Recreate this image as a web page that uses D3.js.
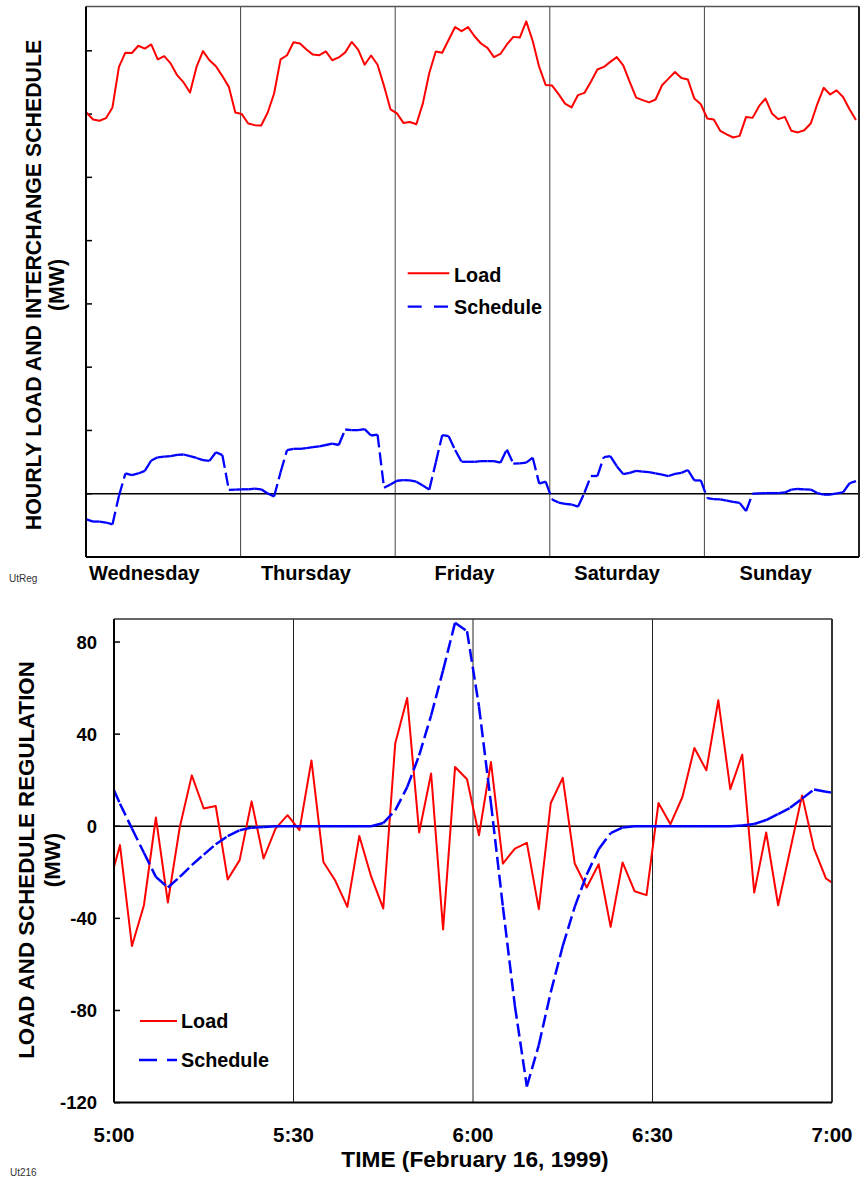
<!DOCTYPE html>
<html>
<head>
<meta charset="utf-8">
<script src="https://cdn.jsdelivr.net/npm/d3@7"></script>
<style>
  body { margin: 0; background: #fff; }
  text { font-family: "Liberation Sans", Arial, Helvetica, sans-serif; font-weight: bold; fill: #000; }
  text.tag { font-weight: normal; fill: #333; }
</style>
</head>
<body>
<svg id="chart" width="867" height="1184"></svg>
<script>
// ---------- Week of hourly load and interchange schedule (MW) ----------
const days = ["Wednesday", "Thursday", "Friday", "Saturday", "Sunday"];

const hourlyLoad = [
  1204, 1183, 1179, 1187, 1221, 1349, 1394, 1393, 1416, 1407, 1420, 1373, 1383, 1360, 1323, 1300, 1268, 1349, 1399, 1370, 1351, 1320, 1286, 1205,
  1200, 1170, 1165, 1164, 1204, 1265, 1373, 1386, 1427, 1423, 1404, 1388, 1386, 1398, 1370, 1379, 1395, 1428, 1404, 1356, 1385, 1356, 1289, 1215,
  1202, 1172, 1175, 1168, 1233, 1330, 1398, 1394, 1435, 1475, 1462, 1475, 1446, 1423, 1409, 1380, 1390, 1420, 1444, 1442, 1493, 1431, 1349, 1292,
  1290, 1263, 1233, 1221, 1260, 1267, 1302, 1341, 1349, 1365, 1380, 1354, 1302, 1252, 1244, 1237, 1246, 1291, 1312, 1333, 1314, 1309, 1249, 1231,
  1186, 1183, 1147, 1136, 1126, 1131, 1191, 1188, 1225, 1249, 1202, 1184, 1191, 1147, 1142, 1149, 1170, 1231, 1283, 1262, 1275, 1254, 1215, 1181
];

const hourlySchedule = [
  -81, -88, -88, -91, -97, -7, 64, 59, 64, 72, 105, 115, 117, 119, 123, 124, 119, 113, 106, 104, 131, 122, 12, 13,
  14, 14, 16, 14, 1, -9, 68, 138, 142, 142, 144, 147, 150, 154, 158, 154, 203, 201, 201, 204, 184, 187, 19, 29,
  41, 43, 42, 38, 26, 13, 98, 185, 182, 138, 101, 101, 101, 103, 103, 103, 98, 140, 95, 96, 98, 114, 32, 38,
  -18, -28, -32, -34, -41, 3, 56, 56, 116, 119, 87, 62, 66, 72, 70, 68, 64, 60, 56, 63, 66, 75, 42, 42,
  -14, -17, -18, -22, -26, -29, -55, 0, 1, 2, 2, 2, 4, 13, 15, 14, 13, 2, -3, -3, 1, 4, 33, 40
];

const weekTicks = [-200, 0, 200, 400, 600, 800, 1000, 1200, 1400];

// ---------- Regulation, February 16 1999, 5:00 to 7:00 (minutes after 5:00) ----------
const minutes = [0, 1, 3, 5, 7, 9, 11, 13, 15, 17, 19, 21, 23, 25, 27, 29, 31, 33, 35, 37, 39,
  41, 43, 45, 47, 49, 51, 53, 55, 57, 59, 61, 63, 65, 67, 69, 71, 73, 75, 77, 79,
  81, 83, 85, 87, 89, 91, 93, 95, 97, 99, 101, 103, 105, 107, 109, 111, 113, 115, 117, 119, 120];

const regLoad = [-17.7, -8.2, -52, -34.3, 3.8, -33.1, -0.3, 22.1, 7.7, 8.8, -23.1,
  -14.7, 10.8, -14, -1, 4.8, -1.7, 28.6, -15.5, -23.7, -35,
  -4.2, -22, -35.7, 35.9, 55.7, -2.7, 22.9, -44.8, 25.7, 20.4,
  -3.9, 27.9, -16.2, -9.7, -7.2, -36, 10.1, 21, -16.2, -26.6,
  -16.5, -43.7, -15.7, -28.2, -29.9, 10.1, 0.9, 12.7, 34, 24.3,
  54.7, 16.1, 31.1, -28.8, -2.7, -34.3, -10.4, 13.4, -9.7, -22.7, -24.5];

const regSchedule = [15.6, 9.8, -1, -11.5, -22, -26.6, -22, -16.9, -12.3, -7.8, -4.3,
  -1.7, -0.6, -0.3, 0, 0, 0, 0, 0, 0, 0,
  0, 0, 1.4, 6.9, 17, 30.8, 48.1, 67.7, 88.4, 84.7,
  52, 10, -35, -78, -113, -95, -72, -52, -35, -21,
  -10, -3, -0.5, 0, 0, 0, 0, 0, 0, 0,
  0, 0, 0.3, 1, 2.7, 5.3, 8, 12, 16, 15, 14.6];

const timeTicks = [0, 30, 60, 90, 120];
const timeTickLabels = ["5:00", "5:30", "6:00", "6:30", "7:00"];
const regTicks = [80, 40, 0, -40, -80, -120];

const RED = "#ff0000", BLUE = "#0000ff";
const svg = d3.select("#chart");

// dashed series: dash pattern restarts on every segment between samples
function dashedSegments(g, pts, x, y, dash, width) {
  g.selectAll(null).data(d3.pairs(pts)).join("line")
    .attr("x1", d => x(d[0][0])).attr("y1", d => y(d[0][1]))
    .attr("x2", d => x(d[1][0])).attr("y2", d => y(d[1][1]))
    .attr("stroke", BLUE).attr("stroke-width", width)
    .attr("stroke-dasharray", dash).attr("fill", "none");
}

// ================= Upper chart =================
{
  const L = 86, R = 859, T = 6.5, B = 557;
  const x = d3.scaleLinear().domain([0, 119]).range([86.6, 856]);
  const dayBand = d3.scaleBand().domain(days).range([L, R]);
  const y = d3.scaleLinear().domain([-200, 1540]).range([B, T]);
  const dayLabelNudge = [-19, -12, -8, -10, -6];
  const g = svg.append("g");

  // day separators
  g.selectAll(null).data(days.slice(1)).join("line")
    .attr("x1", d => dayBand(d)).attr("x2", d => dayBand(d))
    .attr("y1", T).attr("y2", B)
    .attr("stroke", "#444").attr("stroke-width", 1);

  // zero line
  g.append("line").attr("x1", L).attr("x2", R).attr("y1", y(0)).attr("y2", y(0))
    .attr("stroke", "#000").attr("stroke-width", 1.5);

  // inward ticks on the value axis
  g.selectAll(null).data(weekTicks).join("line")
    .attr("x1", L).attr("x2", L + 6).attr("y1", d => y(d)).attr("y2", d => y(d))
    .attr("stroke", "#000").attr("stroke-width", 1.5);

  // load
  g.append("path").datum(hourlyLoad)
    .attr("d", d3.line().x((d, i) => x(i)).y(d => y(d)))
    .attr("fill", "none").attr("stroke", RED).attr("stroke-width", 2)
    .attr("stroke-linejoin", "round");

  // interchange schedule
  dashedSegments(g.append("g"), hourlySchedule.map((v, i) => [i, v]), x, y, "13,5", 2.3);

  // frame
  g.append("line").attr("x1", L).attr("x2", R).attr("y1", T).attr("y2", T).attr("stroke", "#555").attr("stroke-width", 1.5);
  g.append("line").attr("x1", R).attr("x2", R).attr("y1", T).attr("y2", B).attr("stroke", "#222").attr("stroke-width", 2);
  g.append("line").attr("x1", L).attr("x2", R).attr("y1", B).attr("y2", B).attr("stroke", "#000").attr("stroke-width", 2);
  g.append("line").attr("x1", L).attr("x2", L).attr("y1", T).attr("y2", B).attr("stroke", "#000").attr("stroke-width", 2);

  // day labels
  g.selectAll(null).data(days).join("text")
    .attr("x", (d, i) => dayBand(d) + dayBand.bandwidth() / 2 + dayLabelNudge[i])
    .attr("y", 580).attr("text-anchor", "middle").attr("font-size", 20)
    .text(d => d);

  // axis title
  const cy = 285;
  g.append("text").attr("transform", `translate(41,${cy}) rotate(-90)`)
    .attr("text-anchor", "middle").attr("font-size", 21.3)
    .text("HOURLY LOAD AND INTERCHANGE SCHEDULE");
  g.append("text").attr("transform", `translate(64,${cy}) rotate(-90)`)
    .attr("text-anchor", "middle").attr("font-size", 21.3).text("(MW)");

  // legend
  g.append("line").attr("x1", 407.7).attr("x2", 449.3).attr("y1", 273.3).attr("y2", 273.3)
    .attr("stroke", RED).attr("stroke-width", 2);
  g.append("text").attr("x", 454).attr("y", 281.7).attr("font-size", 19.8).text("Load");
  g.append("line").attr("x1", 407.7).attr("x2", 449.3).attr("y1", 306.7).attr("y2", 306.7)
    .attr("stroke", BLUE).attr("stroke-width", 2.3).attr("stroke-dasharray", "14,12.3");
  g.append("text").attr("x", 454).attr("y", 314).attr("font-size", 19.8).text("Schedule");

  g.append("text").attr("class", "tag").attr("x", 9).attr("y", 582).attr("font-size", 10).text("UtReg");
}

// ================= Lower chart =================
{
  const L = 114, R = 832, T = 619, B = 1102.6;
  const x = d3.scaleLinear().domain([0, 120]).range([L, R]);
  const y = d3.scaleLinear().domain([-120, 90]).range([B, T]);
  const g = svg.append("g");

  // half-hour gridlines
  g.selectAll(null).data(timeTicks.slice(1, -1)).join("line")
    .attr("x1", d => x(d)).attr("x2", d => x(d)).attr("y1", T).attr("y2", B)
    .attr("stroke", "#222").attr("stroke-width", 1);

  // zero line
  g.append("line").attr("x1", L).attr("x2", R).attr("y1", y(0)).attr("y2", y(0))
    .attr("stroke", "#000").attr("stroke-width", 1.5);

  // inward ticks + labels
  g.selectAll(null).data(regTicks).join("line")
    .attr("x1", L).attr("x2", L + 6).attr("y1", d => y(d)).attr("y2", d => y(d))
    .attr("stroke", "#000").attr("stroke-width", 1.5);
  g.selectAll(null).data(regTicks).join("text")
    .attr("x", 97).attr("y", d => y(d) + 6.8).attr("text-anchor", "end")
    .attr("font-size", 18.5).text(d => d);

  // time labels
  g.selectAll(null).data(timeTicks).join("text")
    .attr("x", d => x(d)).attr("y", 1142).attr("text-anchor", "middle")
    .attr("font-size", 20.5).text((d, i) => timeTickLabels[i]);

  // load regulation
  g.append("path").datum(minutes.map((m, i) => [m, regLoad[i]]))
    .attr("d", d3.line().x(d => x(d[0])).y(d => y(d[1])))
    .attr("fill", "none").attr("stroke", RED).attr("stroke-width", 2)
    .attr("stroke-linejoin", "round");

  // schedule regulation
  dashedSegments(g.append("g"), minutes.map((m, i) => [m, regSchedule[i]]), x, y, "13,5", 2.5);

  // frame
  g.append("line").attr("x1", L).attr("x2", R).attr("y1", T).attr("y2", T).attr("stroke", "#333").attr("stroke-width", 1.5);
  g.append("line").attr("x1", R).attr("x2", R).attr("y1", T).attr("y2", B).attr("stroke", "#333").attr("stroke-width", 2);
  g.append("line").attr("x1", L).attr("x2", R).attr("y1", B).attr("y2", B).attr("stroke", "#000").attr("stroke-width", 2);
  g.append("line").attr("x1", L).attr("x2", L).attr("y1", T).attr("y2", B).attr("stroke", "#000").attr("stroke-width", 2);

  // axis titles
  const cy = 860;
  g.append("text").attr("transform", `translate(34,${cy}) rotate(-90)`)
    .attr("text-anchor", "middle").attr("font-size", 22.3)
    .text("LOAD AND SCHEDULE REGULATION");
  g.append("text").attr("transform", `translate(60,${cy}) rotate(-90)`)
    .attr("text-anchor", "middle").attr("font-size", 22.3).text("(MW)");
  g.append("text").attr("x", 475).attr("y", 1167).attr("text-anchor", "middle")
    .attr("font-size", 22.7).text("TIME (February 16, 1999)");

  // legend
  g.append("line").attr("x1", 140).attr("x2", 177).attr("y1", 1021).attr("y2", 1021)
    .attr("stroke", RED).attr("stroke-width", 2);
  g.append("text").attr("x", 181).attr("y", 1028).attr("font-size", 19.8).text("Load");
  g.append("line").attr("x1", 139).attr("x2", 177).attr("y1", 1060).attr("y2", 1060)
    .attr("stroke", BLUE).attr("stroke-width", 2.5).attr("stroke-dasharray", "18,10");
  g.append("text").attr("x", 181).attr("y", 1067).attr("font-size", 19.8).text("Schedule");

  g.append("text").attr("class", "tag").attr("x", 10).attr("y", 1176).attr("font-size", 10).text("Ut216");
}
</script>
</body>
</html>
